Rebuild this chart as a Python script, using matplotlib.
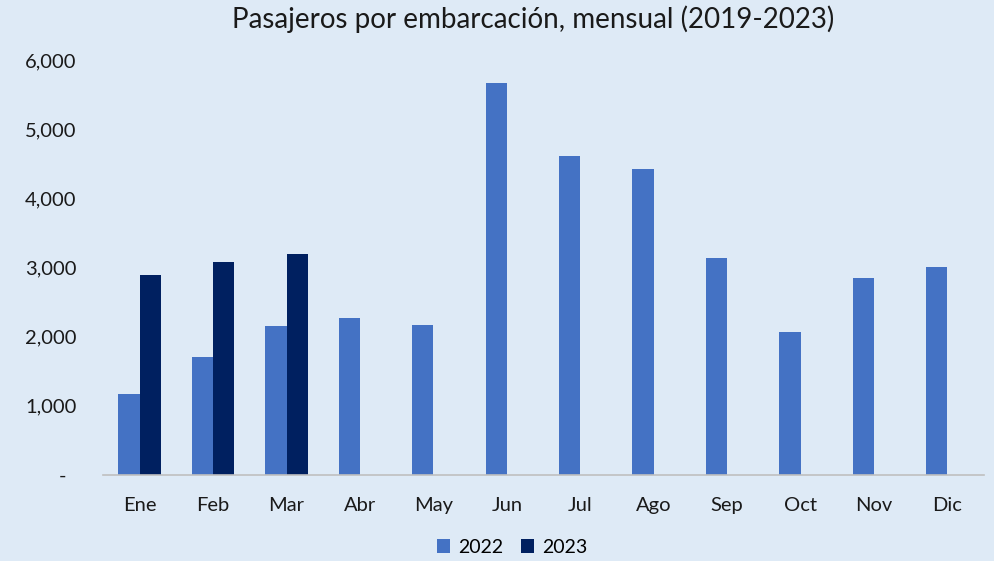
import matplotlib.pyplot as plt
import numpy as np

months = ["Ene", "Feb", "Mar", "Abr", "May", "Jun", "Jul", "Ago", "Sep", "Oct", "Nov", "Dic"]
pax_2022 = [1170, 1705, 2150, 2270, 2170, 5665, 4610, 4420, 3135, 2065, 2845, 3005]
pax_2023 = [2890, 3080, 3195]

bg = "#DEEAF6"
c22 = "#4472C4"
c23 = "#002060"

plt.rcParams["font.family"] = ["Lato", "DejaVu Sans"]

fig = plt.figure(figsize=(9.94, 5.61), dpi=100, facecolor=bg)
ax = fig.add_axes([0.1036, 0.1533, 0.8864, 0.7397], facecolor=bg)

x = np.arange(len(months))
w = 0.29
ax.bar(x - w / 2, pax_2022, w, color=c22, label="2022")
ax.bar(x[:len(pax_2023)] + w / 2, pax_2023, w, color=c23, label="2023")

ax.set_xlim(-0.5, 11.5)
ax.set_ylim(0, 6000)
ax.set_yticks(range(0, 6001, 1000))
ax.set_yticklabels(["-  "] + [f"{v:,}" for v in range(1000, 6001, 1000)])
ax.set_xticks(x)
ax.set_xticklabels(months)
ax.tick_params(axis="both", length=0, labelsize=14.5, colors="#1a1a1a")
ax.tick_params(axis="x", pad=16)
ax.tick_params(axis="y", pad=19)

for s in ["top", "right", "left"]:
    ax.spines[s].set_visible(False)
ax.spines["bottom"].set_color("#BFBFBF")
ax.spines["bottom"].set_linewidth(1.2)

fig.text(0.536, 0.965, "Pasajeros por embarcación, mensual (2019-2023)",
         ha="center", va="center", fontsize=20, color="#1a1a1a")

fig.legend(loc="center", bbox_to_anchor=(0.515, 0.024), ncol=2, frameon=False,
           fontsize=14, handlelength=0.7, handleheight=0.7, handletextpad=0.4,
           columnspacing=0.9)

fig.savefig("out.png", dpi=100, facecolor=bg)
